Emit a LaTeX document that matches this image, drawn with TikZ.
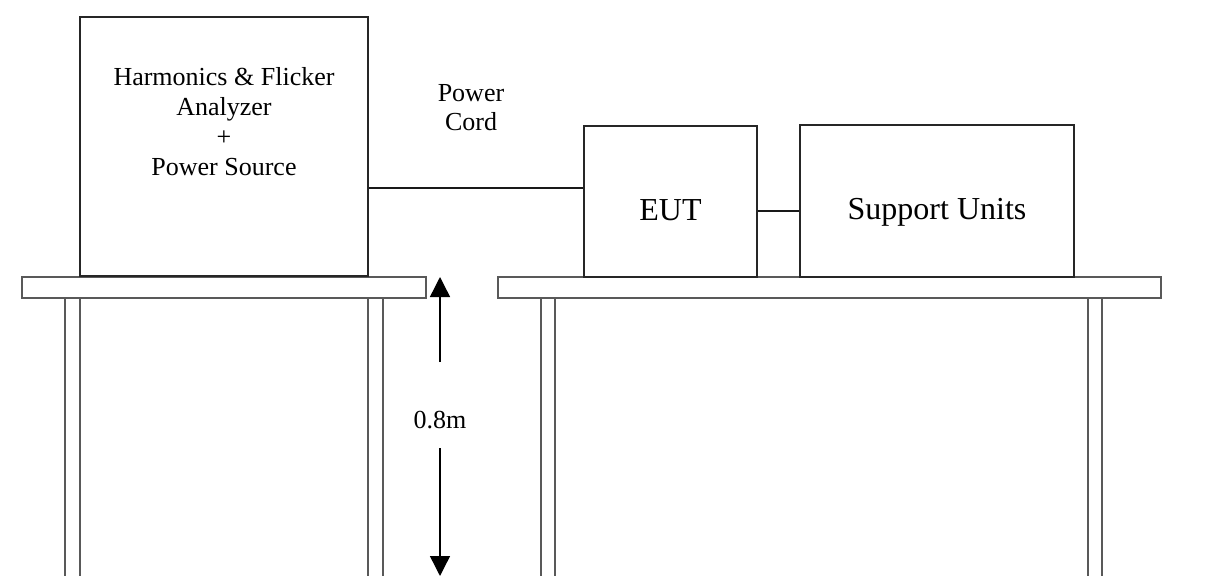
\documentclass[tikz,border=0pt]{standalone}
\usepackage{fontspec}
\setmainfont{Liberation Serif}
\usetikzlibrary{arrows.meta}
\begin{document}
\begin{tikzpicture}[x=1bp,y=-1bp,
  box/.style={draw=black!85,line width=1.4bp,rectangle,inner sep=0pt},
  tabletop/.style={draw=black!65,line width=1.4bp,fill=white},
  leg/.style={draw=black!65,line width=1.3bp,fill=white},
  wire/.style={draw=black!90,line width=1.3bp},
  small/.style={font=\fontsize{26bp}{30bp}\selectfont,align=center,inner sep=0pt},
  big/.style={font=\fontsize{32bp}{36bp}\selectfont,align=center,inner sep=0pt},
  dim/.style={draw=black,line width=1.4bp,-{Triangle[width=20bp,length=20bp]}}]
\clip (0,0) rectangle (1205,576);
\fill[white] (0,0) rectangle (1205,576);
% tables
\draw[leg] (65,298) rectangle (80,590);
\draw[leg] (368,298) rectangle (383,590);
\draw[leg] (541,298) rectangle (555,590);
\draw[leg] (1088,298) rectangle (1102,590);
\draw[tabletop] (22,277) rectangle (426,298);
\draw[tabletop] (498,277) rectangle (1161,298);
% boxes
\node[box,minimum width=288bp,minimum height=259bp] (analyzer) at (224,146.5) {};
\node[box,minimum width=173bp,minimum height=151bp] (eut) at (670.5,201.5) {};
\node[box,minimum width=274bp,minimum height=152bp] (support) at (937,201) {};
% texts
\node[small] (analyzertext) at (224,122) {Harmonics \& Flicker\\Analyzer\\+\\Power Source};
\node[small,font=\fontsize{26bp}{29bp}\selectfont] (cordtext) at (471,107.5) {Power\\Cord};
\node[big] (euttext) at (670.5,210) {EUT};
\node[big] (supporttext) at (937,212) {Support Units};
% connectors
\draw[wire] (analyzer.east |- 0,188) -- (eut.west |- 0,188);
\draw[wire] (eut.east |- 0,211) -- (support.west |- 0,211);
% dimension
\node[small] (dimlbl) at (440,420) {0.8m};
\coordinate (dimtop) at (440,277);
\coordinate (dimbot) at (440,576);
\coordinate (d1) at (440,362);
\coordinate (d2) at (440,448);
\draw[dim] (d1) -- (dimtop);
\draw[dim] (d2) -- (dimbot);
\end{tikzpicture}
\end{document}
